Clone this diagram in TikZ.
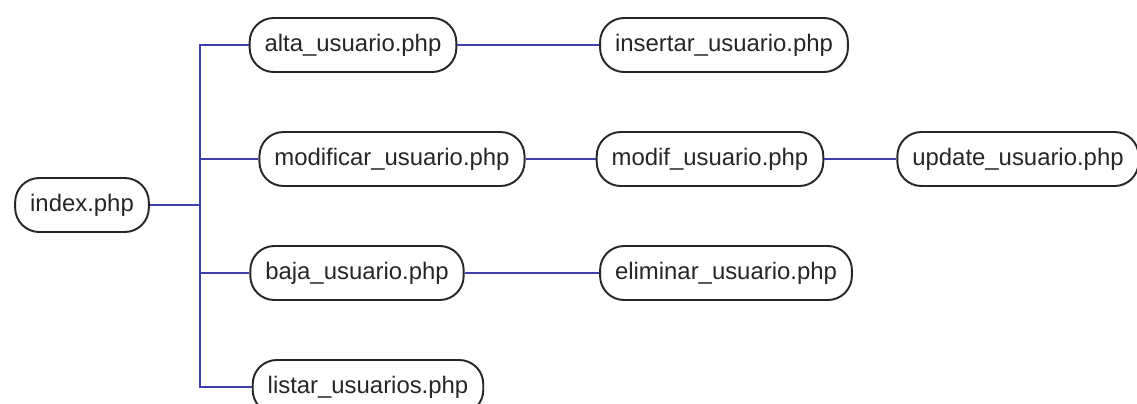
\documentclass[tikz,border=0pt]{standalone}
\usepackage{fontspec}
\setmainfont{Liberation Sans}
\definecolor{linkblue}{RGB}{62,62,172}
\begin{document}
\begin{tikzpicture}[x=0.02cm,y=-0.02cm,
	file/.style={draw=black!85,text=black!85,line width=1.1pt,rounded corners=0.48cm,minimum height=1.08cm,inner xsep=0.3cm,font=\fontsize{13.6}{16}\selectfont},
	link/.style={draw=linkblue,line width=1.2pt}]
	\clip (0,0) rectangle (1137,403);
	\useasboundingbox (0,0) rectangle (1137,403);
	\node[file] (index) at (82,205) {index.php};
	\node[file] (alta) at (353,45) {alta\_usuario.php};
	\node[file] (modificar) at (392,159) {modificar\_usuario.php};
	\node[file] (baja) at (357,273) {baja\_usuario.php};
	\node[file] (listar) at (368,387) {listar\_usuarios.php};
	\node[file] (insertar) at (724,45) {insertar\_usuario.php};
	\node[file] (modif) at (710,159) {modif\_usuario.php};
	\node[file] (update) at (1018,159) {update\_usuario.php};
	\node[file] (eliminar) at (726,273) {eliminar\_usuario.php};
	\coordinate (trunk) at (200,205);
	%	arbol
	\draw[link] (index) -- (trunk);
	\draw[link] (alta.west) -| (trunk) |- (listar.west);
	\draw[link] (modificar.west) -| (trunk);
	\draw[link] (baja.west) -| (trunk);
	\draw[link] (alta) -- (insertar);
	\draw[link] (modificar) -- (modif);
	\draw[link] (modif) -- (update);
	\draw[link] (baja) -- (eliminar);
\end{tikzpicture}
\end{document}
